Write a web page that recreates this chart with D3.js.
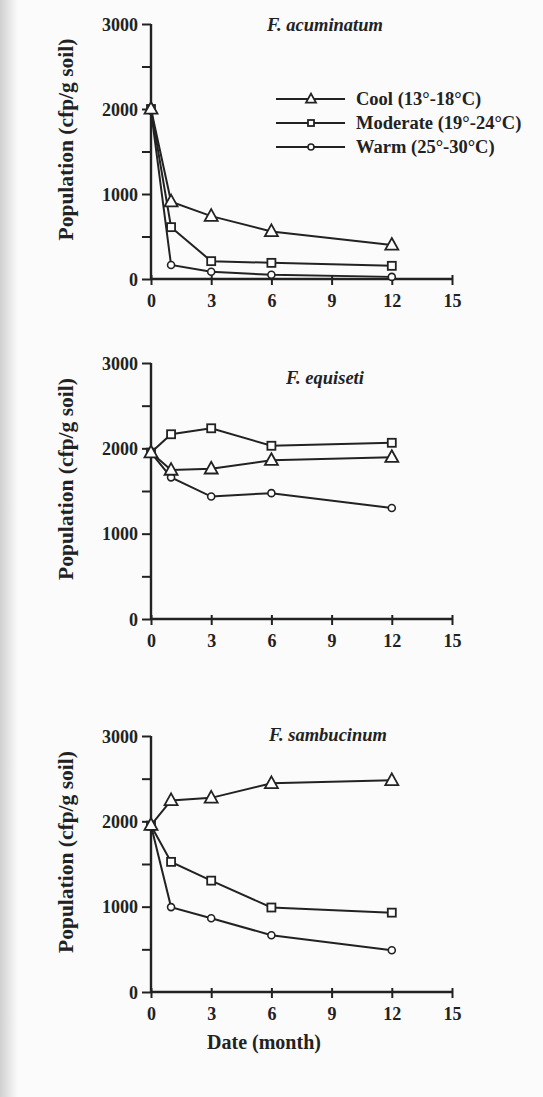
<!DOCTYPE html>
<html>
<head>
<meta charset="utf-8">
<script src="https://cdn.jsdelivr.net/npm/d3@7"></script>
<style>
  body { margin: 0; background: #fbfbfb; }
  text { font-family: "Liberation Serif", "DejaVu Serif", serif; font-weight: bold; fill: #222; }
</style>
</head>
<body>
<div id="chart"></div>
<script>
// months sampled
var months = [0, 1, 3, 6, 12];

// F. acuminatum
var acumCool = [2000, 910, 740, 560, 400];
var acumModerate = [2000, 610, 210, 190, 155];
var acumWarm = [1980, 165, 85, 50, 25];

// F. equiseti
var equiCool = [1950, 1745, 1760, 1860, 1895];
var equiModerate = [1950, 2165, 2235, 2030, 2065];
var equiWarm = [1950, 1660, 1435, 1475, 1300];

// F. sambucinum
var sambCool = [1955, 2245, 2275, 2445, 2480];
var sambModerate = [1950, 1525, 1305, 990, 930];
var sambWarm = [1950, 995, 865, 665, 490];

var speciesNames = ["F. acuminatum", "F. equiseti", "F. sambucinum"];
var seriesNames = ["Cool (13°-18°C)", "Moderate (19°-24°C)", "Warm (25°-30°C)"];
var xTicks = [0, 3, 6, 9, 12, 15];
var yTicks = [0, 1000, 2000, 3000];
var yMinor = [500, 1500, 2500];

var W = 543, H = 1097;
var svg = d3.select("#chart").append("svg")
  .attr("width", W).attr("height", H);

// scan shadow on the left edge
var grad = svg.append("defs").append("linearGradient").attr("id", "shade");
grad.append("stop").attr("offset", "0%").attr("stop-color", "#d0d0d0");
grad.append("stop").attr("offset", "100%").attr("stop-color", "#fbfbfb");
svg.append("rect").attr("x", 0).attr("y", 0).attr("width", 18).attr("height", H)
  .attr("fill", "url(#shade)");

var panels = [
  {top: 24, bottom: 279, titleY: 31, titleX: 325, data: [acumCool, acumModerate, acumWarm]},
  {top: 363, bottom: 619, titleY: 384, titleX: 325, data: [equiCool, equiModerate, equiWarm]},
  {top: 736, bottom: 992, titleY: 741, titleX: 328, data: [sambCool, sambModerate, sambWarm]}
];

var x = d3.scaleLinear().domain([0, 15]).range([151, 452]);

var ink = "#222";

function drawMarker(g, kind, cx, cy, s) {
  if (kind == 0) {
    var h = s * 0.9;
    g.append("path")
      .attr("d", "M" + cx + "," + (cy - h * 0.6) + "L" + (cx + s / 2) + "," + (cy + h * 0.4) +
        "L" + (cx - s / 2) + "," + (cy + h * 0.4) + "Z")
      .attr("fill", "#fff").attr("stroke", ink).attr("stroke-width", 1.8);
  } else if (kind == 1) {
    g.append("rect").attr("x", cx - s / 2).attr("y", cy - s / 2)
      .attr("width", s).attr("height", s)
      .attr("fill", "#fff").attr("stroke", ink).attr("stroke-width", 1.8);
  } else {
    g.append("circle").attr("cx", cx).attr("cy", cy).attr("r", s / 2)
      .attr("fill", "#fff").attr("stroke", ink).attr("stroke-width", 1.6);
  }
}

var markerSize = [13, 8, 7];

panels.forEach(function(p, i) {
  var y = d3.scaleLinear().domain([0, 3000]).range([p.bottom, p.top]);
  var g = svg.append("g");

  // y axis
  var yAxis = g.append("g").attr("transform", "translate(151,0)")
    .call(d3.axisLeft(y).tickValues(yTicks.concat(yMinor)).tickSize(9).tickPadding(4)
      .tickFormat(function(d) { return yTicks.indexOf(d) >= 0 ? d : ""; }));
  yAxis.select(".domain").attr("stroke", ink).attr("stroke-width", 2.4).attr("d", "M0," + p.top + "V" + p.bottom);
  yAxis.selectAll(".tick line").attr("stroke", ink).attr("stroke-width", 2);
  yAxis.selectAll(".tick text").style("font-size", "18px").style("font-family", "Liberation Serif")
    .style("font-weight", "bold").attr("fill", ink).attr("dy", "0.35em");

  // x axis
  var xAxis = g.append("g").attr("transform", "translate(0," + p.bottom + ")")
    .call(d3.axisBottom(x).tickValues(xTicks).tickSize(6).tickPadding(9)
      .tickFormat(d3.format("d")));
  xAxis.select(".domain").attr("stroke", ink).attr("stroke-width", 2.4).attr("d", "M151,0H452");
  xAxis.selectAll(".tick line").attr("stroke", ink).attr("stroke-width", 2).attr("y1", -4);
  xAxis.selectAll(".tick text").style("font-size", "18px").style("font-family", "Liberation Serif")
    .style("font-weight", "bold").attr("fill", ink);

  // y label
  g.append("text")
    .attr("transform", "translate(73," + ((p.top + p.bottom) / 2 - 12) + ") rotate(-90)")
    .attr("text-anchor", "middle")
    .style("font-size", "21.5px")
    .text("Population (cfp/g soil)");

  // title
  g.append("text").attr("x", p.titleX).attr("y", p.titleY)
    .attr("text-anchor", "middle")
    .style("font-size", "18.5px").style("font-style", "italic")
    .text(speciesNames[i]);

  // series
  var line = d3.line()
    .x(function(d, j) { return x(months[j]); })
    .y(function(d) { return y(d); });

  [2, 1, 0].forEach(function(k) {
    var vals = p.data[k];
    g.append("path").datum(vals).attr("d", line)
      .attr("fill", "none").attr("stroke", ink).attr("stroke-width", 2);
  });
  [2, 1, 0].forEach(function(k) {
    p.data[k].forEach(function(v, j) {
      drawMarker(g, k, x(months[j]), y(v), markerSize[k]);
    });
  });
});

// legend (first panel)
var leg = svg.append("g");
var legY = [99, 123, 147];
seriesNames.forEach(function(name, k) {
  leg.append("line").attr("x1", 276).attr("x2", 345).attr("y1", legY[k]).attr("y2", legY[k])
    .attr("stroke", ink).attr("stroke-width", 2);
  drawMarker(leg, k, 311, legY[k], k == 0 ? 10 : 6);
  leg.append("text").attr("x", 356).attr("y", legY[k]).attr("dy", "0.35em")
    .style("font-size", "18.5px").text(name);
});

// x label
svg.append("text").attr("x", 264).attr("y", 1049)
  .attr("text-anchor", "middle").style("font-size", "20px")
  .text("Date (month)");
</script>
</body>
</html>
